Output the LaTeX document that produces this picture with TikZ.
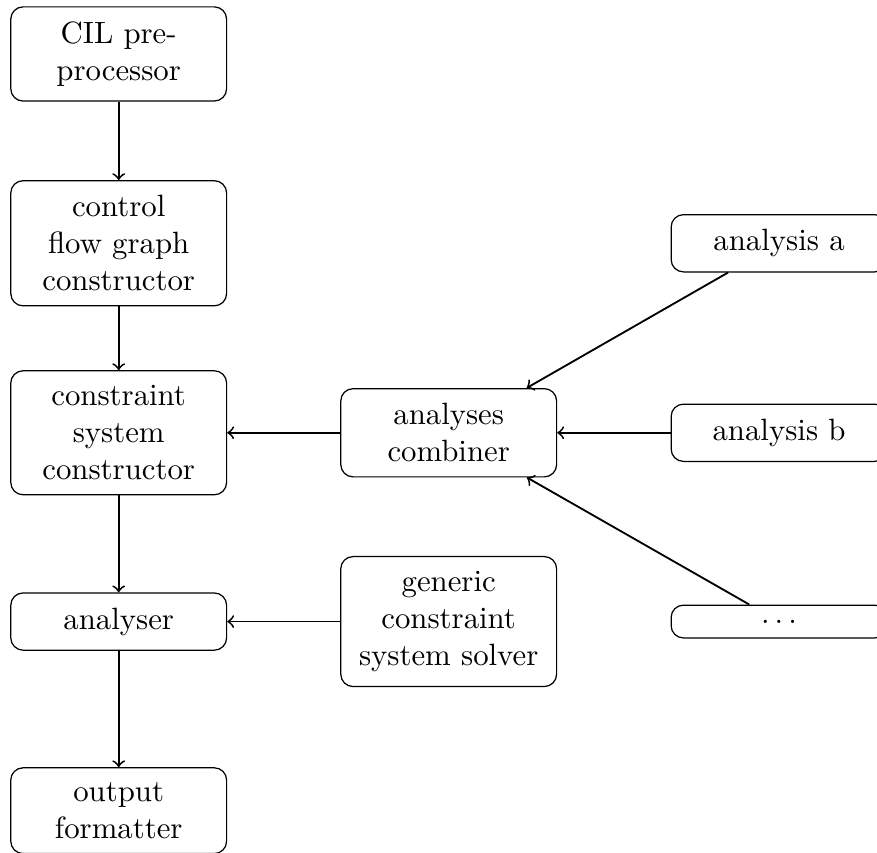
\documentclass[tikz,border=0pt]{standalone}
\usepackage{amsmath,amssymb}

\begin{document}
\begin{tikzpicture}[box/.style={draw,rounded corners,text width=60.5pt,inner sep=4.8pt,align=center}]
            \useasboundingbox (-1.355,0.616) rectangle (8.656,-9.110);
            \node[box] (cil) at (0,0) {CIL pre-\\processor};
            \node[box] (cfg) at (0,-2.161) {control\\flow graph\\constructor};
            \node[box] (cons) at (0,-4.324) {constraint\\system\\constructor};
            \node[box] (ana) at (0,-6.479) {analyser};
            \node[box] (out) at (0,-8.638) {output\\formatter};
            \node[box] (comb) at (3.767,-4.324) {analyses\\combiner};
            \node[box] (solv) at (3.767,-6.479) {generic\\constraint\\system solver};
            \node[box] (aa) at (7.538,-2.161) {analysis a};
            \node[box] (ab) at (7.538,-4.324) {analysis b};
            \node[box] (adots) at (7.538,-6.479) {$\ldots$};
            \foreach \a/\b in {cil/cfg,cfg/cons,cons/ana,ana/out,comb/cons,solv/ana,aa/comb,ab/comb,adots/comb}{
                \draw[->,semithick] (\a)--(\b);
            }
        \end{tikzpicture}
\end{document}
